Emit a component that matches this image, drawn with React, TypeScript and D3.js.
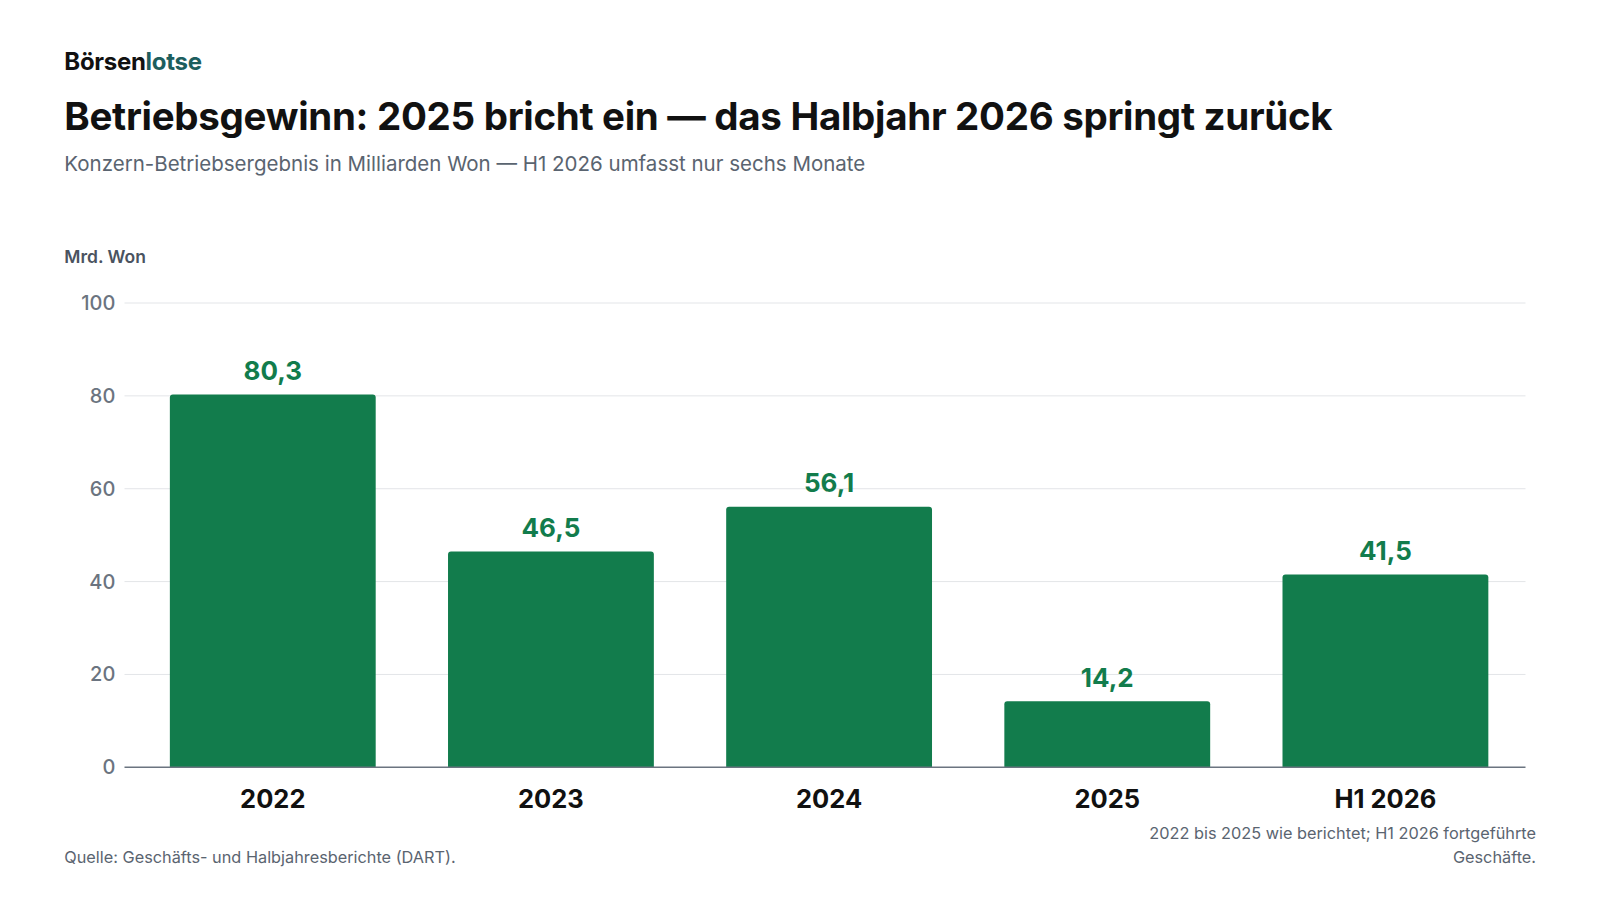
import { useEffect } from 'react';
import * as d3 from 'd3';

const categories = ['2022', '2023', '2024', '2025', 'H1 2026'];
const values = [80.3, 46.5, 56.1, 14.2, 41.5];
const yTicks = [0, 20, 40, 60, 80, 100];

const W = 1600;
const H = 900;
const font = 'Inter, "Noto Sans", sans-serif';
const green = '#127c4c';

export default function App() {
  useEffect(() => {
    document.body.style.margin = '0';
    document.body.style.overflow = 'hidden';
  }, []);

  const x = d3.scaleBand<string>().domain(categories).range([133.7, 1524.5]).paddingInner(0.26).paddingOuter(0.13);
  const y = d3.scaleLinear().domain([0, 100]).range([767.3, 303]);
  const fmt = (v: number) => v.toFixed(1).replace('.', ',');
  const r = 3;
  const left = 64.3;

  return (
    <svg width={W} height={H} style={{ position: 'fixed', left: 0, top: 0, background: '#fff', display: 'block' }} fontFamily={font}>
      <text x={left} y={70.4} fontSize={24} fontWeight={700} fill="#111" letterSpacing={-0.3}>
        Börsen<tspan fill="#1d5e5e">lotse</tspan>
      </text>
      <text x={left} y={129.6} fontSize={38.5} fontWeight={700} fill="#111" letterSpacing={-0.3}>
        Betriebsgewinn: 2025 bricht ein — das Halbjahr 2026 springt zurück
      </text>
      <text x={left} y={171.4} fontSize={20.5} fill="#5a6470">
        Konzern-Betriebsergebnis in Milliarden Won — H1 2026 umfasst nur sechs Monate
      </text>
      <text x={left} y={263.3} fontSize={17.5} fontWeight={600} fill="#4a5360">Mrd. Won</text>

      {yTicks.map(t => (
        <g key={t}>
          {t > 0 && <line x1={124.5} x2={1525.5} y1={y(t)} y2={y(t)} stroke="#e3e5e8" strokeWidth={1} />}
          <text x={115.3} y={y(t)} dy="0.35em" textAnchor="end" fontSize={20} fontWeight={500} fill="#6b7480">{t}</text>
        </g>
      ))}

      {categories.map((c, i) => {
        const x0 = x(c)!;
        const w = x.bandwidth();
        const top = y(values[i]);
        const b = y(0);
        const d = `M${x0},${b}V${top + r}Q${x0},${top} ${x0 + r},${top}H${x0 + w - r}Q${x0 + w},${top} ${x0 + w},${top + r}V${b}Z`;
        return (
          <g key={c}>
            <path d={d} fill={green} />
            <text x={x0 + w / 2} y={top - 14.5} textAnchor="middle" fontSize={26} fontWeight={700} fill={green}>{fmt(values[i])}</text>
            <text x={x0 + w / 2} y={808} textAnchor="middle" fontSize={25.5} fontWeight={700} fill="#111">{c}</text>
          </g>
        );
      })}
      <line x1={124.5} x2={1525.5} y1={y(0)} y2={y(0)} stroke="#6b7480" strokeWidth={1.5} />

      <text x={left} y={863} fontSize={16.3} fill="#5a6470">Quelle: Geschäfts- und Halbjahresberichte (DART).</text>
      <text x={1536} y={839} textAnchor="end" fontSize={16.3} fill="#5a6470">2022 bis 2025 wie berichtet; H1 2026 fortgeführte</text>
      <text x={1536} y={863} textAnchor="end" fontSize={16.3} fill="#5a6470">Geschäfte.</text>
    </svg>
  );
}
